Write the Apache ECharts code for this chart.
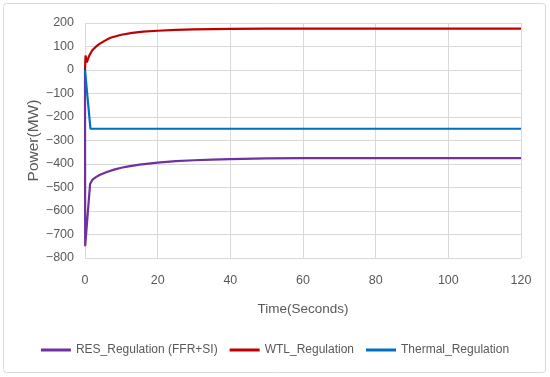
<!DOCTYPE html>
<html><head><meta charset="utf-8">
<script src="https://cdn.jsdelivr.net/npm/echarts@6/dist/echarts.min.js"></script>
<style>html,body{margin:0;padding:0;background:#fff}#c{width:550px;height:377px}</style>
</head><body><div id="c"></div>
<script>
const seriesNames = ['RES_Regulation (FFR+SI)', 'WTL_Regulation', 'Thermal_Regulation'];
const resData = [[0,0],[0.05,-750],[0.4,-680],[1.4,-485],[2,-468],[3,-456],[4,-447],[6,-434],[8,-424],[10,-416],[12,-410],[15,-403],[20,-394],[25,-388],[30,-384],[35,-381],[40,-379],[50,-376],[60,-375],[80,-375],[100,-375],[120,-375]];
const wtlData = [[0,0],[0.15,62],[0.5,32],[1,55],[1.5,70],[2,84],[3,99],[4,111],[5.5,125],[7,137],[10,150],[13,158],[16,163],[20,167],[25,171],[30,173],[40,175],[50,176],[60,176],[80,176],[100,176],[120,176]];
const thermalData = [[0,0],[1.5,-250],[20,-250],[40,-250],[60,-250],[80,-250],[100,-250],[120,-250]];
const xTicks = [0,20,40,60,80,100,120];
const yTicks = [-800,-700,-600,-500,-400,-300,-200,-100,0,100,200];

const font = 'Liberation Sans';
const gray = '#595959';
const chart = echarts.init(document.getElementById('c'));
chart.setOption({
  animation:false,
  textStyle:{fontFamily:font},
  graphic:[{type:'rect',shape:{x:3.5,y:3.5,width:542,height:369,r:3},style:{fill:'none',stroke:'#d9d9d9',lineWidth:1},silent:true}],
  grid:{left:85,right:29,top:23,bottom:119},
  xAxis:{type:'value',min:xTicks[0],max:xTicks[xTicks.length-1],interval:20,
    name:'Time(Seconds)',nameLocation:'middle',nameGap:44,
    nameTextStyle:{color:gray,fontSize:13.5,fontFamily:font},
    axisLine:{show:false},axisTick:{show:false},
    axisLabel:{color:gray,fontSize:12.5,margin:16},
    splitLine:{show:true,lineStyle:{color:'#d9d9d9',width:1}}},
  yAxis:{type:'value',min:yTicks[0],max:yTicks[yTicks.length-1],interval:100,
    name:'Power(MW)',nameLocation:'middle',nameGap:43,nameRotate:90,nameMoveOverlap:false,
    nameTextStyle:{color:gray,fontSize:15.5,fontFamily:font},
    axisLine:{show:false},axisTick:{show:false},
    axisLabel:{color:gray,fontSize:12.5,margin:11,formatter:v=>String(v).replace('-','\u2212')},
    splitLine:{show:true,lineStyle:{color:'#d9d9d9',width:1}}},
  legend:{bottom:16,left:'center',itemWidth:30,itemHeight:3,itemGap:12,icon:'rect',
    textStyle:{color:gray,fontSize:12},
    data:seriesNames},
  series:[
    {name:seriesNames[0],type:'line',data:resData,showSymbol:false,smooth:false,lineStyle:{color:'#7030A0',width:2.2},itemStyle:{color:'#7030A0'}},
    {name:seriesNames[1],type:'line',data:wtlData,showSymbol:false,smooth:false,lineStyle:{color:'#C00000',width:2.2},itemStyle:{color:'#C00000'}},
    {name:seriesNames[2],type:'line',data:thermalData,showSymbol:false,smooth:false,lineStyle:{color:'#0070C0',width:2.2},itemStyle:{color:'#0070C0'}}
  ]
});
</script></body></html>
